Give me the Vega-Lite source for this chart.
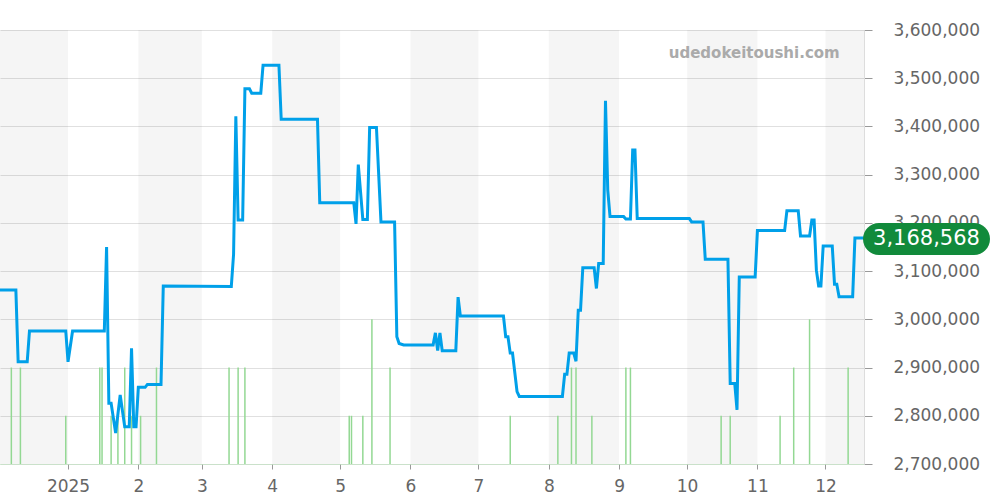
{
  "$schema": "https://vega.github.io/schema/vega-lite/v6.json",
  "width": 864,
  "height": 434,
  "autosize": {"type": "none"},
  "padding": {"left": 0, "top": 30, "right": 136, "bottom": 36},
  "background": "white",
  "config": {"view": {"stroke": null}, "font": "DejaVu Sans"},
  "datasets": {
    "bands": [
      {"start": "2024/12/01", "end": "2025/01/01"},
      {"start": "2025/02/01", "end": "2025/03/01"},
      {"start": "2025/04/01", "end": "2025/05/01"},
      {"start": "2025/06/01", "end": "2025/07/01"},
      {"start": "2025/08/01", "end": "2025/09/01"},
      {"start": "2025/10/01", "end": "2025/11/01"},
      {"start": "2025/12/01", "end": "2026/01/01"}
    ],
    "volume": [
      {"date": "2024/12/07", "count": 2},
      {"date": "2024/12/11", "count": 2},
      {"date": "2024/12/31", "count": 1},
      {"date": "2025/01/15", "count": 2},
      {"date": "2025/01/16", "count": 2},
      {"date": "2025/01/20", "count": 1},
      {"date": "2025/01/23", "count": 1},
      {"date": "2025/01/26", "count": 2},
      {"date": "2025/01/29", "count": 1},
      {"date": "2025/02/02", "count": 1},
      {"date": "2025/02/09", "count": 2},
      {"date": "2025/03/13", "count": 2},
      {"date": "2025/03/17", "count": 2},
      {"date": "2025/03/20", "count": 2},
      {"date": "2025/05/05", "count": 1},
      {"date": "2025/05/06", "count": 1},
      {"date": "2025/05/11", "count": 1},
      {"date": "2025/05/15", "count": 3},
      {"date": "2025/05/23", "count": 2},
      {"date": "2025/07/15", "count": 1},
      {"date": "2025/08/05", "count": 1},
      {"date": "2025/08/11", "count": 2},
      {"date": "2025/08/13", "count": 2},
      {"date": "2025/08/20", "count": 1},
      {"date": "2025/09/04", "count": 2},
      {"date": "2025/09/06", "count": 2},
      {"date": "2025/10/16", "count": 1},
      {"date": "2025/10/20", "count": 1},
      {"date": "2025/11/11", "count": 1},
      {"date": "2025/11/17", "count": 2},
      {"date": "2025/11/24", "count": 3},
      {"date": "2025/12/11", "count": 2}
    ],
    "price": [
      {"date": "2024/12/02", "price": 3061000},
      {"date": "2024/12/09", "price": 3061000},
      {"date": "2024/12/10", "price": 2912000},
      {"date": "2024/12/14", "price": 2912000},
      {"date": "2024/12/15", "price": 2976000},
      {"date": "2024/12/31", "price": 2976000},
      {"date": "2025/01/01", "price": 2912000},
      {"date": "2025/01/03", "price": 2976000},
      {"date": "2025/01/17", "price": 2976000},
      {"date": "2025/01/18", "price": 3150000},
      {"date": "2025/01/19", "price": 2826000},
      {"date": "2025/01/20", "price": 2826000},
      {"date": "2025/01/22", "price": 2764000},
      {"date": "2025/01/24", "price": 2843000},
      {"date": "2025/01/26", "price": 2777000},
      {"date": "2025/01/28", "price": 2777000},
      {"date": "2025/01/29", "price": 2940000},
      {"date": "2025/01/30", "price": 2777000},
      {"date": "2025/01/31", "price": 2777000},
      {"date": "2025/02/01", "price": 2859000},
      {"date": "2025/02/04", "price": 2859000},
      {"date": "2025/02/05", "price": 2865000},
      {"date": "2025/02/11", "price": 2865000},
      {"date": "2025/02/12", "price": 3069000},
      {"date": "2025/03/14", "price": 3068000},
      {"date": "2025/03/15", "price": 3135000},
      {"date": "2025/03/16", "price": 3421000},
      {"date": "2025/03/17", "price": 3206000},
      {"date": "2025/03/19", "price": 3206000},
      {"date": "2025/03/20", "price": 3478000},
      {"date": "2025/03/22", "price": 3478000},
      {"date": "2025/03/23", "price": 3469000},
      {"date": "2025/03/27", "price": 3469000},
      {"date": "2025/03/28", "price": 3527000},
      {"date": "2025/04/04", "price": 3527000},
      {"date": "2025/04/05", "price": 3415000},
      {"date": "2025/04/21", "price": 3415000},
      {"date": "2025/04/22", "price": 3242000},
      {"date": "2025/05/07", "price": 3242000},
      {"date": "2025/05/08", "price": 3198000},
      {"date": "2025/05/09", "price": 3321000},
      {"date": "2025/05/11", "price": 3207000},
      {"date": "2025/05/13", "price": 3207000},
      {"date": "2025/05/14", "price": 3398000},
      {"date": "2025/05/17", "price": 3398000},
      {"date": "2025/05/19", "price": 3202000},
      {"date": "2025/05/25", "price": 3202000},
      {"date": "2025/05/26", "price": 2964000},
      {"date": "2025/05/27", "price": 2950000},
      {"date": "2025/05/29", "price": 2947000},
      {"date": "2025/06/11", "price": 2947000},
      {"date": "2025/06/12", "price": 2972000},
      {"date": "2025/06/13", "price": 2935000},
      {"date": "2025/06/14", "price": 2972000},
      {"date": "2025/06/15", "price": 2935000},
      {"date": "2025/06/21", "price": 2935000},
      {"date": "2025/06/22", "price": 3046000},
      {"date": "2025/06/23", "price": 3007000},
      {"date": "2025/07/12", "price": 3007000},
      {"date": "2025/07/13", "price": 2964000},
      {"date": "2025/07/14", "price": 2964000},
      {"date": "2025/07/15", "price": 2930000},
      {"date": "2025/07/16", "price": 2930000},
      {"date": "2025/07/18", "price": 2850000},
      {"date": "2025/07/19", "price": 2840000},
      {"date": "2025/08/07", "price": 2840000},
      {"date": "2025/08/08", "price": 2886000},
      {"date": "2025/08/09", "price": 2886000},
      {"date": "2025/08/10", "price": 2930000},
      {"date": "2025/08/12", "price": 2930000},
      {"date": "2025/08/13", "price": 2913000},
      {"date": "2025/08/14", "price": 3019000},
      {"date": "2025/08/15", "price": 3019000},
      {"date": "2025/08/16", "price": 3107000},
      {"date": "2025/08/21", "price": 3107000},
      {"date": "2025/08/22", "price": 3064000},
      {"date": "2025/08/23", "price": 3116000},
      {"date": "2025/08/25", "price": 3116000},
      {"date": "2025/08/26", "price": 3453000},
      {"date": "2025/08/27", "price": 3268000},
      {"date": "2025/08/28", "price": 3213000},
      {"date": "2025/09/03", "price": 3213000},
      {"date": "2025/09/04", "price": 3208000},
      {"date": "2025/09/06", "price": 3208000},
      {"date": "2025/09/07", "price": 3351000},
      {"date": "2025/09/08", "price": 3351000},
      {"date": "2025/09/09", "price": 3209000},
      {"date": "2025/10/02", "price": 3209000},
      {"date": "2025/10/03", "price": 3202000},
      {"date": "2025/10/08", "price": 3202000},
      {"date": "2025/10/09", "price": 3124500},
      {"date": "2025/10/19", "price": 3124500},
      {"date": "2025/10/20", "price": 2867000},
      {"date": "2025/10/22", "price": 2867000},
      {"date": "2025/10/23", "price": 2812000},
      {"date": "2025/10/24", "price": 3088000},
      {"date": "2025/10/31", "price": 3088000},
      {"date": "2025/11/01", "price": 3184000},
      {"date": "2025/11/13", "price": 3184000},
      {"date": "2025/11/14", "price": 3225000},
      {"date": "2025/11/19", "price": 3225000},
      {"date": "2025/11/20", "price": 3173000},
      {"date": "2025/11/24", "price": 3173000},
      {"date": "2025/11/25", "price": 3206000},
      {"date": "2025/11/26", "price": 3206000},
      {"date": "2025/11/27", "price": 3102000},
      {"date": "2025/11/28", "price": 3069000},
      {"date": "2025/11/29", "price": 3069000},
      {"date": "2025/11/30", "price": 3152000},
      {"date": "2025/12/04", "price": 3152000},
      {"date": "2025/12/05", "price": 3073000},
      {"date": "2025/12/06", "price": 3073000},
      {"date": "2025/12/07", "price": 3047000},
      {"date": "2025/12/13", "price": 3047000},
      {"date": "2025/12/14", "price": 3168568},
      {"date": "2025/12/18", "price": 3168568}
    ],
    "last": [{"date": "2025/12/18", "price": 3168568, "text": "3,168,568"}],
    "brand": [{"date": "2025/12/07 07:00", "price": 3553000, "text": "udedokeitoushi.com"}]
  },
  "resolve": {"scale": {"y": "independent"}},
  "layer": [
    {
      "data": {"name": "bands"},
      "mark": {"type": "rect", "color": "#000000", "opacity": 0.04, "clip": true},
      "encoding": {
        "x": {
          "field": "start",
          "type": "temporal",
          "scale": {"domain": ["2024/12/02", "2025/12/18"]},
          "axis": {
            "title": null,
            "grid": false,
            "tickCount": {"interval": "month", "step": 1},
            "labelExpr": "month(datum.value) == 0 ? timeFormat(datum.value, '%Y') : timeFormat(datum.value, '%-m')",
            "labelFontSize": 17,
            "labelColor": "#666666",
            "labelFont": "DejaVu Sans",
            "labelPadding": 9,
            "labelFlush": false,
            "labelOverlap": false,
            "tickColor": "#999999",
            "tickSize": 5,
            "domainColor": "#b5e3b5",
            "domainDash": [1, 1]
          }
        },
        "x2": {"field": "end"}
      }
    },
    {
      "data": {"name": "volume"},
      "mark": {"type": "rule", "color": "#93d893", "strokeWidth": 1.5, "clip": true},
      "encoding": {
        "x": {"field": "date", "type": "temporal"},
        "y": {"field": "count", "type": "quantitative", "scale": {"domain": [0, 9]}, "axis": null},
        "y2": {"datum": 0}
      }
    },
    {
      "layer": [
        {
          "data": {"name": "price"},
          "mark": {"type": "line", "color": "#00a0e9", "strokeWidth": 3, "clip": true},
          "encoding": {
            "x": {"field": "date", "type": "temporal"},
            "y": {
              "field": "price",
              "type": "quantitative",
              "scale": {"domain": [2700000, 3600000], "nice": false, "zero": false},
              "axis": {
                "orient": "right",
                "title": null,
                "values": [2700000, 2800000, 2900000, 3000000, 3100000, 3200000, 3300000, 3400000, 3500000, 3600000],
                "format": ",.0f",
                "labelFontSize": 17,
                "labelColor": "#666666",
                "labelFont": "DejaVu Sans",
                "labelPadding": 21,
                "tickSize": 8,
                "tickColor": "#999999",
                "domainColor": "#dddddd",
                "gridColor": "#e0e0e0",
                "grid": true
              }
            }
          }
        },
        {
          "data": {"name": "brand"},
          "mark": {"type": "text", "align": "right", "baseline": "middle", "fontSize": 15, "fontWeight": "bold", "color": "#aaaaaa", "font": "DejaVu Sans"},
          "encoding": {
            "x": {"field": "date", "type": "temporal"},
            "y": {"field": "price", "type": "quantitative"},
            "text": {"field": "text"}
          }
        },
        {
          "data": {"name": "last"},
          "mark": {
            "type": "point",
            "filled": true,
            "opacity": 1,
            "color": "#118a3b",
            "size": 16129,
            "shape": "M-0.748,-0.252 L0.748,-0.252 A0.252,0.252 0 0 1 0.748,0.252 L-0.748,0.252 A0.252,0.252 0 0 1 -0.748,-0.252 Z",
            "xOffset": 62.5,
            "yOffset": 1,
            "clip": false
          },
          "encoding": {
            "x": {"field": "date", "type": "temporal"},
            "y": {"field": "price", "type": "quantitative"}
          }
        },
        {
          "data": {"name": "last"},
          "mark": {"type": "text", "color": "white", "fontSize": 21, "font": "DejaVu Sans", "align": "center", "baseline": "middle", "xOffset": 62.5, "yOffset": 1},
          "encoding": {
            "x": {"field": "date", "type": "temporal"},
            "y": {"field": "price", "type": "quantitative"},
            "text": {"field": "text"}
          }
        }
      ]
    }
  ]
}
